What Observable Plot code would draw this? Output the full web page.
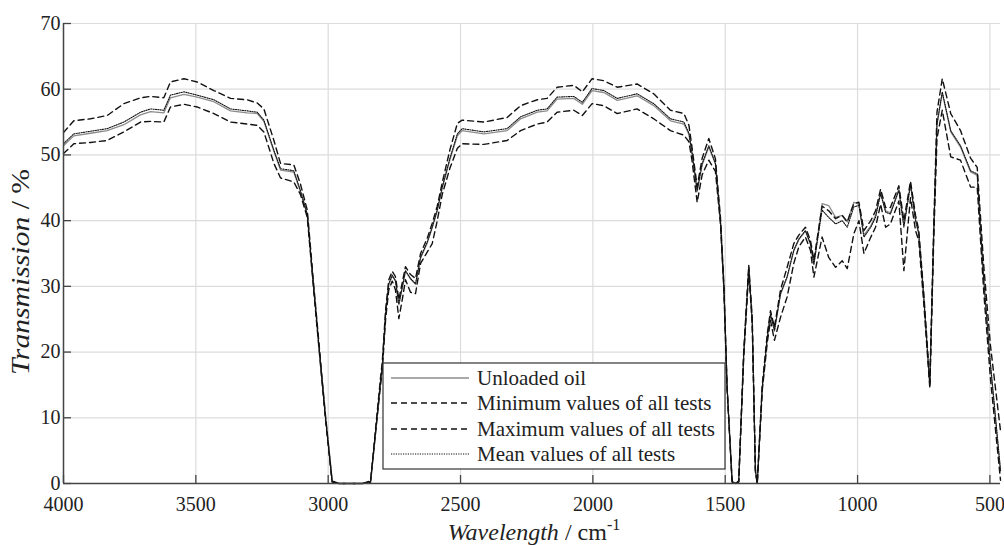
<!DOCTYPE html>
<html><head><meta charset="utf-8">
<script src="https://cdn.jsdelivr.net/npm/d3@7"></script>
<script src="https://cdn.jsdelivr.net/npm/@observablehq/plot@0.6"></script>
<style>
body{margin:0;background:#fff}
#chart{position:relative;width:1004px;height:545px}
</style>
</head><body><div id="chart"></div>
<script>
const wavenumber = [4000,3961,3898,3835,3772,3709,3671,3621,3596,3545,3495,3432,3369,3306,3268,3243,3205,3180,3130,3105,3079,3055,3023,3010,2985,2960,2870,2840,2802,2796,2783,2771,2758,2746,2733,2720,2708,2689,2670,2651,2626,2607,2588,2569,2540,2512,2494,2412,2324,2273,2210,2173,2135,2072,2040,2003,1959,1908,1833,1770,1707,1656,1637,1625,1606,1587,1562,1537,1518,1505,1493,1474,1460,1449,1430,1411,1398,1386,1379,1360,1341,1329,1314,1291,1266,1241,1222,1197,1178,1165,1134,1109,1083,1058,1039,1014,995,976,950,932,913,894,876,844,825,800,781,769,750,727,712,700,680,648,611,573,548,523,498,460];
const meanValues = [51.7,53.2,53.6,54.0,55.0,56.5,57.0,56.8,59.1,59.6,59.1,58.4,57.0,56.7,56.5,55.3,50.7,47.9,47.6,44.6,41.0,29.9,15.7,10.0,0.3,0,0,0.3,15.7,17.7,25.9,30.4,31.7,30.9,27.3,29.9,32.4,31.2,30.4,34.4,36.7,39.0,41.6,45.1,49.5,53.2,54.0,53.5,54.0,55.8,56.8,57.0,58.8,58.9,58.0,60.1,59.8,58.6,59.3,57.8,55.5,55.0,53.3,50.2,44.6,48.7,51.4,48.7,40.0,29.9,14.7,0.3,0,0.3,19.8,32.9,24.8,2.0,0,14.7,22.3,25.8,23.3,28.9,31.5,35.5,37.2,38.5,36.5,33.4,41.6,40.5,39.5,40.0,39.0,42.1,42.3,37.5,39.0,40.5,44.1,41.3,41.0,44.6,39.0,45.4,40.0,38.0,28.4,14.9,38.5,54.7,59.6,53.7,51.4,47.6,47.1,30.9,18.2,2.0];
const unloadedValues = [51.4,52.9,53.3,53.7,54.6,56.1,56.6,56.4,58.7,59.2,58.8,58.1,56.7,56.4,56.3,55.1,50.5,47.7,47.4,44.4,40.9,29.8,15.6,9.9,0.3,0,0,0.3,15.6,17.6,25.8,30.3,31.6,30.8,27.2,29.8,32.3,31.1,30.3,34.3,36.6,38.9,41.5,45.0,49.3,52.9,53.7,53.2,53.7,55.5,56.5,56.7,58.5,58.6,57.7,59.8,59.5,58.3,59.0,57.5,55.2,54.7,53.1,50.0,44.4,48.5,51.2,48.6,39.9,29.8,14.6,0.3,0,0.3,19.7,32.8,24.7,2.0,0,14.6,22.2,25.7,23.2,28.8,31.4,35.4,37.1,38.4,36.4,33.3,42.6,42.3,40.5,40.8,39.8,42.8,42.5,37.8,39.2,40.8,44.3,41.5,41.2,44.8,39.3,45.6,40.2,38.2,28.5,15.0,38.6,54.6,59.4,53.5,51.2,47.4,46.9,30.8,18.1,1.9];
const minimumValues = [50.2,51.7,51.9,52.2,53.5,55.0,55.1,55.0,57.3,57.7,57.3,56.3,55.0,54.7,54.5,53.5,48.7,46.5,45.9,44.0,40.5,29.5,15.3,9.7,0.2,0,0,0.2,15.0,17.0,25.0,29.5,30.8,29.5,25.1,28.0,31.0,29.1,28.9,33.5,35.2,36.5,40.0,44.0,48.0,51.0,51.7,51.6,52.2,53.7,54.7,55.0,56.5,56.8,56.0,57.8,57.5,56.3,57.0,55.5,53.7,53.0,52.0,49.0,42.8,47.0,49.2,47.5,39.5,29.5,14.3,0.2,0,0.2,19.3,32.4,24.3,1.8,0,14.2,21.5,24.8,21.8,25.3,28.4,33.5,36.0,37.5,35.5,31.4,37.5,34.4,32.9,33.9,32.7,38.0,40.0,35.0,37.5,39.0,42.5,39.0,39.5,43.0,32.4,43.5,38.5,37.0,27.5,14.5,37.5,52.5,56.8,49.7,49.2,45.1,45.1,29.0,16.0,0.5];
const maximumValues = [53.4,55.2,55.5,56.0,57.8,58.7,58.9,58.7,61.1,61.6,61.1,59.8,58.6,58.4,57.9,57.0,52.2,48.7,48.5,45.6,41.6,30.4,16.0,10.3,0.4,0,0,0.4,16.2,18.3,26.5,31.0,32.3,31.5,28.0,30.6,33.0,31.8,31.2,35.0,37.3,39.6,42.2,45.8,50.8,54.8,55.3,55.0,55.7,57.5,58.4,58.6,60.3,60.6,59.6,61.6,61.3,60.3,60.8,59.3,56.8,56.3,54.5,51.0,45.2,49.5,52.5,49.4,40.5,30.3,15.0,0.4,0,0.4,20.2,33.2,25.2,2.2,0,15.0,22.8,26.3,23.8,29.5,32.9,36.5,37.8,39.0,37.0,34.0,42.2,41.5,40.3,40.8,39.8,42.6,42.8,38.5,40.0,41.5,44.8,42.0,42.0,45.3,40.0,46.0,40.8,38.6,29.0,15.3,39.5,56.5,61.6,56.3,53.7,49.5,48.1,33.0,21.0,8.0];
const seriesNames = ["Unloaded oil","Minimum values of all tests","Maximum values of all tests","Mean values of all tests"];
const xTicks = [4000,3500,3000,2500,2000,1500,1000,500];
const yTicks = [0,10,20,30,40,50,60,70];

const seriesValues = [unloadedValues, minimumValues, maximumValues, meanValues];
const styles = [
  {stroke:"#8c8c8c", strokeWidth:1.3, dash:null},
  {stroke:"#111", strokeWidth:1.4, dash:"6,4"},
  {stroke:"#111", strokeWidth:1.4, dash:"6,4"},
  {stroke:"#111", strokeWidth:1.1, dash:"1.2,1.2"}
];
const table = [];
seriesNames.forEach((name, s) => wavenumber.forEach((w, i) => table.push({w, v: seriesValues[s][i], series: name})));

const W = 1004, H = 545, mL = 63, mR = 4, mT = 23, mB = 62;
const plotW = W - mL - mR, plotH = H - mT - mB;
const font = "Liberation Serif";

const lineMarks = seriesNames.map((name, s) => Plot.line(table.filter(d => d.series === name), {
  x: "w", y: "v", stroke: styles[s].stroke, strokeWidth: styles[s].strokeWidth,
  strokeDasharray: styles[s].dash, strokeLinejoin: "round"
}));

const plot = Plot.plot({
  width: W, height: H,
  marginLeft: mL, marginRight: mR, marginTop: mT, marginBottom: mB,
  x: {domain: [4000, 460]},
  y: {domain: [0, 70]},
  style: {fontFamily: font, fontSize: "20px", color: "#222", background: "white", overflow: "visible"},
  marks: [
    Plot.gridX(xTicks, {stroke: "#dcdcdc", strokeOpacity: 1, strokeWidth: 1.2}),
    Plot.gridY(yTicks, {stroke: "#dcdcdc", strokeOpacity: 1, strokeWidth: 1.2}),
    Plot.axisX(xTicks, {tickSize: 0, tickPadding: 13, label: null, fontSize: 20, fontFamily: font, fill: "#222", tickFormat: d => String(d)}),
    Plot.axisY(yTicks, {tickSize: 0, tickPadding: 3, label: null, fontSize: 20, fontFamily: font, fill: "#222", tickFormat: d => String(d)}),
    Plot.tickX(xTicks, {x: d => d, insetTop: plotH - 8, stroke: "#444", strokeWidth: 1.3}),
    Plot.tickY(yTicks, {y: d => d, insetRight: plotW - 8, stroke: "#444", strokeWidth: 1.3}),
    ...lineMarks,
    Plot.ruleX([4000], {stroke: "#444", strokeWidth: 1.5}),
    Plot.ruleY([0], {stroke: "#444", strokeWidth: 1.5})
  ]
});
document.getElementById("chart").appendChild(plot);

const svg = d3.select(plot);
// axis titles
const yl = svg.append("text")
  .attr("transform", `translate(29,272) rotate(-90)`)
  .attr("text-anchor", "middle").attr("font-family", font).attr("font-size", 26).attr("fill", "#222")
  .attr("textLength", 206).attr("lengthAdjust", "spacingAndGlyphs");
yl.append("tspan").attr("font-style", "italic").text("Transmission");
yl.append("tspan").text(" / %");

const xl = svg.append("text")
  .attr("x", 534).attr("y", 540)
  .attr("text-anchor", "middle").attr("font-family", font).attr("font-size", 24).attr("fill", "#222");
xl.append("tspan").attr("font-style", "italic").text("Wavelength");
xl.append("tspan").text(" / cm");
xl.append("tspan").attr("font-size", 16).attr("dy", -10).text("-1");

// legend
const lg = svg.append("g");
lg.append("rect").attr("x", 383).attr("y", 363).attr("width", 342).attr("height", 106)
  .attr("fill", "white").attr("stroke", "#333").attr("stroke-width", 1.2);
const rowY = [378, 403, 429, 454];
seriesNames.forEach((name, s) => {
  lg.append("line").attr("x1", 391).attr("x2", 469).attr("y1", rowY[s]).attr("y2", rowY[s])
    .attr("stroke", styles[s].stroke).attr("stroke-width", styles[s].strokeWidth)
    .attr("stroke-dasharray", styles[s].dash);
  lg.append("text").attr("x", 477).attr("y", rowY[s] + 7).attr("text-anchor", "start")
    .attr("font-family", font).attr("font-size", 21).attr("fill", "#222").text(name);
});
</script>
</body></html>
